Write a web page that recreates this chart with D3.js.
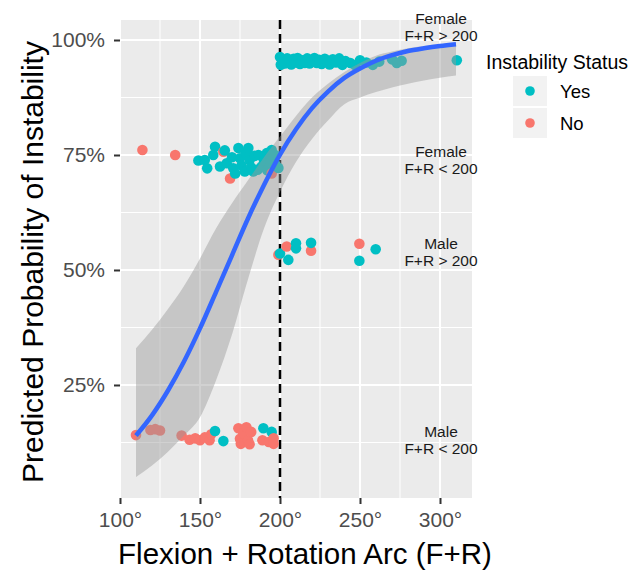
<!DOCTYPE html>
<html>
<head>
<meta charset="utf-8">
<script src="https://cdn.jsdelivr.net/npm/d3@7"></script>
<style>
  body { margin: 0; background: #fff; }
  svg { font-family: "Liberation Sans", Arial, sans-serif; }
</style>
</head>
<body>
<div id="chart"></div>
<script>
// fitted curve and confidence band (arc in degrees, probability in %)
var fitArc   = [110,120,130,140,150,160,170,180,190,200,210,220,230,240,250,260,270,280,290,300,310];
var fitProb  = [14.0,18.4,23.8,30.1,37.3,45.2,53.2,61.2,68.5,75.1,80.6,85.2,88.8,91.7,93.8,95.5,96.7,97.6,98.2,98.7,99.1];
var bandLow  = [5,7.5,10.5,14,18,26,36,48,59,67,73.5,78.5,82.5,86,87.5,88.7,89.7,90.5,91.2,91.8,92.3];
var bandHigh = [33,37,41.5,46.5,52.5,59,64.5,69.5,74.5,79,83.5,87.5,90.5,93,95,96.6,97.5,98.2,98.7,99.1,99.4];

// observed patients: arc, predicted probability (jittered), instability status
var femaleHighArc  = [200,200.5,202,203,204.5,206,207,208.5,210,211,212.5,214,215.5,217,218.5,220,221.5,223,224.5,226,228,229.5,231,233,235,237,239,241,244,247,250,254,258,262,270,273,276,310.5];
var femaleHighProb = [96.3,94.6,95.6,94.9,96.0,95.2,94.7,95.9,95.1,96.1,94.8,95.6,95.0,96.0,94.9,95.5,96.1,95.0,95.7,94.8,95.9,95.2,94.7,95.8,95.1,96.0,94.6,95.4,95.0,94.5,95.6,95.1,94.6,95.3,95.8,95.0,95.5,95.6];
var femaleHighStat = femaleHighArc.map(function() { return "Yes"; });

var femaleLowArc  = [114,134.5,149,153,154.5,158.3,159.4,162.5,164.6,165.5,166.7,168.8,170,170.8,172,174,175,176,178,178.5,180.2,181,182,183.3,184,186,186.5,188.5,190,191.7,192,193.8,194.8,194.8,196.9,197,199];
var femaleLowProb = [76.1,75.0,73.8,73.9,72.1,75.0,76.8,72.5,75.7,76.0,73.2,69.9,74.5,72.1,71.0,76.5,74.3,72.7,71.4,75.5,76.5,73.9,72.3,71.4,74.8,71.8,75.0,72.5,73.8,75.4,71.7,73.5,76.1,71.0,75.0,73.0,72.2];
var femaleLowStat = ["No","No","Yes","Yes","Yes","Yes","Yes","Yes","No","Yes","Yes","No","Yes","Yes","Yes","Yes","Yes","Yes","Yes","Yes","Yes","Yes","Yes","Yes","Yes","Yes","Yes","Yes","Yes","Yes","Yes","Yes","Yes","No","Yes","Yes","Yes"];

var maleHighArc  = [199,200,204.2,205.2,210,210,219.4,219.4,249.6,249.6,259.8];
var maleHighProb = [53.3,53.6,55.1,52.2,54.7,55.8,54.2,55.9,55.7,52.0,54.5];
var maleHighStat = ["No","Yes","No","Yes","Yes","Yes","No","Yes","No","Yes","Yes"];

var maleLowArc  = [110,119,122,125,138.5,143.5,147,150,153,156,157,159.4,164.6,174,175,175.5,177,179,180,181,182,189,189.6,193,194.8,196,196];
var maleLowProb = [14.1,15.2,15.4,15.1,14.0,13.1,13.4,13.0,13.6,13.0,14.3,15.0,12.8,15.6,13.3,12.2,14.6,15.8,13.0,12.1,14.8,13.0,15.6,12.6,14.8,13.4,12.2];
var maleLowStat = ["No","No","No","No","No","No","No","No","No","No","No","Yes","Yes","No","No","No","No","No","No","No","No","No","Yes","No","Yes","No","No"];

// group labels placed at right of panel
var groupLabels = [["Female", "F+R > 200"], ["Female", "F+R < 200"], ["Male", "F+R > 200"], ["Male", "F+R < 200"]];
var groupLabelArc  = [300, 300, 300, 300];
var groupLabelProb = [102.9, 73.9, 54.0, 13.0];

var statusNames  = ["Yes", "No"];
var statusColors = ["#00BFC4", "#F8766D"];
var cutoffArc = 200;

var xTicks = [100, 150, 200, 250, 300];
var yTicks = [25, 50, 75, 100];

var width = 643, height = 574;
var panelLeft = 120, panelRight = 472, panelTop = 20, panelBottom = 498;

var svg = d3.select("#chart").append("svg")
    .attr("width", width)
    .attr("height", height);

var x = d3.scaleLinear().domain([100, 320]).range([panelLeft, panelRight]);
var y = d3.scaleLinear().domain([0.43, 104.35]).range([panelBottom, panelTop]);
var color = d3.scaleOrdinal().domain(statusNames).range(statusColors);

// panel background
svg.append("rect")
    .attr("x", panelLeft).attr("y", panelTop)
    .attr("width", panelRight - panelLeft).attr("height", panelBottom - panelTop)
    .attr("fill", "#ebebeb");

// grid lines (minor then major)
var xMinor = [125, 175, 225, 275];
var yMinor = [12.5, 37.5, 62.5, 87.5];
var grid = svg.append("g").attr("stroke", "#fff");
grid.selectAll(".xminor").data(xMinor).enter().append("line")
    .attr("x1", x).attr("x2", x).attr("y1", panelTop).attr("y2", panelBottom)
    .attr("stroke-width", 1);
grid.selectAll(".yminor").data(yMinor).enter().append("line")
    .attr("x1", panelLeft).attr("x2", panelRight).attr("y1", y).attr("y2", y)
    .attr("stroke-width", 1);
grid.selectAll(".xmajor").data(xTicks).enter().append("line")
    .attr("x1", x).attr("x2", x).attr("y1", panelTop).attr("y2", panelBottom)
    .attr("stroke-width", 2);
grid.selectAll(".ymajor").data(yTicks).enter().append("line")
    .attr("x1", panelLeft).attr("x2", panelRight).attr("y1", y).attr("y2", y)
    .attr("stroke-width", 2);

// cutoff line
svg.append("line")
    .attr("x1", x(cutoffArc)).attr("x2", x(cutoffArc))
    .attr("y1", panelTop).attr("y2", panelBottom)
    .attr("stroke", "#000")
    .attr("stroke-width", 2.5)
    .attr("stroke-dasharray", "9,5");

// points
var points = [];
function addGroup(arcs, probs, stats) {
  arcs.forEach(function(a, i) { points.push({arc: a, prob: probs[i], status: stats[i]}); });
}
addGroup(femaleHighArc, femaleHighProb, femaleHighStat);
addGroup(femaleLowArc, femaleLowProb, femaleLowStat);
addGroup(maleHighArc, maleHighProb, maleHighStat);
addGroup(maleLowArc, maleLowProb, maleLowStat);

svg.append("g").selectAll("circle")
    .data(points)
    .enter()
    .append("circle")
    .attr("cx", function(d) { return x(d.arc); })
    .attr("cy", function(d) { return y(d.prob); })
    .attr("r", 5.3)
    .attr("fill", function(d) { return color(d.status); });

// confidence band
var band = fitArc.map(function(a, i) { return [a, bandLow[i], bandHigh[i]]; });
svg.append("path")
    .datum(band)
    .attr("fill", "#999999")
    .attr("fill-opacity", 0.45)
    .attr("d", d3.area()
      .curve(d3.curveMonotoneX)
      .x(function(d) { return x(d[0]); })
      .y0(function(d) { return y(d[1]); })
      .y1(function(d) { return y(d[2]); }));

// fitted curve
svg.append("path")
    .datum(fitArc.map(function(a, i) { return [a, fitProb[i]]; }))
    .attr("fill", "none")
    .attr("stroke", "#3366FF")
    .attr("stroke-width", 4.5)
    .attr("d", d3.line()
      .curve(d3.curveMonotoneX)
      .x(function(d) { return x(d[0]); })
      .y(function(d) { return y(d[1]); }));

// group labels
var lab = svg.append("g")
    .attr("font-size", 15.5)
    .attr("fill", "#1a1a1a")
    .attr("text-anchor", "middle");
groupLabels.forEach(function(l, i) {
  var t = lab.append("text")
      .attr("x", x(groupLabelArc[i]) + 1)
      .attr("y", y(groupLabelProb[i]) - 3);
  t.append("tspan").attr("x", x(groupLabelArc[i]) + 1).text(l[0]);
  t.append("tspan").attr("x", x(groupLabelArc[i]) + 1).attr("dy", 17).text(l[1]);
});

// axes
var xAxis = d3.axisBottom(x)
    .tickValues(xTicks)
    .tickSize(6)
    .tickPadding(8)
    .tickFormat(function(d) { return d + "°"; });
var yAxis = d3.axisLeft(y)
    .tickValues(yTicks)
    .tickSize(6)
    .tickPadding(9)
    .tickFormat(function(d) { return d + "%"; });

var gx = svg.append("g")
    .attr("transform", "translate(0," + panelBottom + ")")
    .call(xAxis);
var gy = svg.append("g")
    .attr("transform", "translate(" + panelLeft + ",0)")
    .call(yAxis);
[gx, gy].forEach(function(g) {
  g.select(".domain").remove();
  g.selectAll(".tick line").attr("stroke", "#333").attr("stroke-width", 2);
  g.selectAll(".tick text")
    .attr("fill", "#4d4d4d")
    .attr("font-size", 21)
    .attr("font-family", "Liberation Sans, Arial, sans-serif");
});

// axis titles
svg.append("text")
    .attr("x", 305)
    .attr("y", 564)
    .attr("text-anchor", "middle")
    .attr("font-size", 29.5)
    .attr("fill", "#000")
    .text("Flexion + Rotation Arc (F+R)");
svg.append("text")
    .attr("transform", "translate(43,262) rotate(-90)")
    .attr("text-anchor", "middle")
    .attr("font-size", 30)
    .attr("fill", "#000")
    .text("Predicted Probability of Instability");

// legend
var legend = svg.append("g").attr("transform", "translate(486,0)");
legend.append("text")
    .attr("x", 0).attr("y", 69)
    .attr("font-size", 19.5)
    .attr("fill", "#000")
    .text("Instability Status");
var keys = legend.selectAll(".key").data(statusNames).enter().append("g")
    .attr("transform", function(d, i) { return "translate(27," + (76 + i * 32) + ")"; });
keys.append("rect")
    .attr("width", 34).attr("height", 30)
    .attr("fill", "#f2f2f2");
keys.append("circle")
    .attr("cx", 17).attr("cy", 15).attr("r", 4.8)
    .attr("fill", function(d) { return color(d); });
keys.append("text")
    .attr("x", 47).attr("y", 21.5)
    .attr("font-size", 18.5)
    .attr("fill", "#000")
    .text(function(d) { return d; });
</script>
</body>
</html>
